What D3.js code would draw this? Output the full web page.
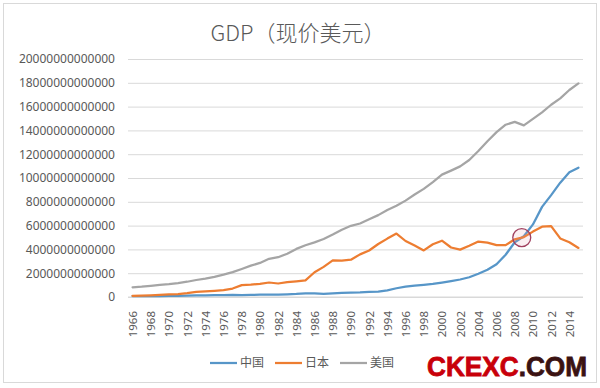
<!DOCTYPE html>
<html>
<head>
<meta charset="utf-8">
<script src="https://cdn.jsdelivr.net/npm/d3@7"></script>
<style>
  body { margin: 0; background: #fff; }
</style>
</head>
<body>
<div id="chart"></div>
<script>
var w = 600,
    h = 388;

// GDP, current US$, trillions
var years = d3.range(1966, 2016);

var china = [0.0764, 0.0723, 0.0700, 0.0788, 0.0916, 0.0986, 0.1121, 0.1368, 0.1422, 0.1612,
             0.1516, 0.1724, 0.1482, 0.1766, 0.1894, 0.1941, 0.2033, 0.2283, 0.2576, 0.3074,
             0.2983, 0.2720, 0.3127, 0.3478, 0.3608, 0.3834, 0.4266, 0.4447, 0.5643, 0.7345,
             0.8637, 0.9615, 1.0290, 1.0940, 1.2113, 1.3394, 1.4706, 1.6603, 1.9553, 2.2860,
             2.7520, 3.5522, 4.5982, 5.1100, 6.1006, 7.5726, 8.5605, 9.6072, 10.4824, 10.8664];

var japan = [0.105, 0.123, 0.147, 0.172, 0.212, 0.240, 0.318, 0.432, 0.479, 0.522,
             0.576, 0.709, 0.998, 1.031, 1.105, 1.218, 1.134, 1.243, 1.318, 1.399,
             2.079, 2.532, 3.072, 3.054, 3.133, 3.584, 3.909, 4.454, 4.907, 5.334,
             4.706, 4.324, 3.915, 4.433, 4.731, 4.160, 3.981, 4.303, 4.656, 4.572,
             4.357, 4.356, 4.849, 5.035, 5.495, 5.906, 5.954, 4.920, 4.602, 4.123];

var usa = [0.815, 0.862, 0.942, 1.020, 1.075, 1.167, 1.283, 1.429, 1.549, 1.688,
           1.877, 2.086, 2.357, 2.632, 2.863, 3.211, 3.345, 3.638, 4.041, 4.347,
           4.590, 4.870, 5.252, 5.658, 5.980, 6.174, 6.539, 6.879, 7.309, 7.664,
           8.100, 8.609, 9.089, 9.661, 10.285, 10.622, 10.978, 11.511, 12.275, 13.094,
           13.856, 14.478, 14.719, 14.419, 14.964, 15.518, 16.155, 16.692, 17.393, 17.947];

var yTicks = d3.range(0, 20000000000001, 2000000000000);

var seriesNames = ['中国', '日本', '美国'];

var palette = {
    china: '#5796C8',
    japan: '#ED7D31',
    usa: '#A5A5A5',
    grid: '#D9D9D9',
    text: '#595959'
};

var series = [
    { name: seriesNames[0], values: china, color: palette.china },
    { name: seriesNames[1], values: japan, color: palette.japan },
    { name: seriesNames[2], values: usa, color: palette.usa }
];

var svg = d3.select('#chart')
    .append('svg')
    .attr('width', w)
    .attr('height', h)
    .style('font-family', '"Noto Sans", "Noto Sans CJK SC", sans-serif');

// chart frame
svg.append('rect')
    .attr('x', 3.5).attr('y', 3.5)
    .attr('width', 593).attr('height', 379)
    .attr('fill', '#fff')
    .attr('stroke', palette.grid);

var x = d3.scalePoint()
    .domain(years)
    .range([128, 583])
    .padding(0.5);

var y = d3.scaleLinear()
    .domain([0, 20000000000000])
    .range([297, 59]);

// title
svg.append('text')
    .attr('x', 298)
    .attr('y', 41)
    .attr('text-anchor', 'middle')
    .attr('font-size', 22)
    .attr('font-weight', 300)
    .attr('fill', palette.text)
    .style('font-family', '"Noto Sans CJK SC", sans-serif')
    .text('GDP（现价美元）');

// y axis + gridlines
var yAxis = svg.append('g')
    .attr('transform', 'translate(128,0)')
    .call(d3.axisLeft(y).tickValues(yTicks).tickSize(-455).tickPadding(13)
        .tickFormat(function(d) { return d === 0 ? '0' : d3.format('d')(d); }));

yAxis.select('.domain').remove();
yAxis.selectAll('line').attr('stroke', palette.grid);
yAxis.selectAll('text')
    .attr('fill', palette.text)
    .attr('font-size', 12)
    .style('font-family', '"Noto Sans", sans-serif');

// x axis
var xAxis = svg.append('g')
    .attr('transform', 'translate(0,297)')
    .call(d3.axisBottom(x)
        .tickValues(years.filter(function(d) { return (d - 1966) % 2 === 0; }))
        .tickSize(0));

xAxis.select('.domain')
    .attr('d', 'M128,0H583')
    .attr('stroke', palette.grid);

xAxis.selectAll('text')
    .attr('transform', 'rotate(-90)')
    .attr('text-anchor', 'end')
    .attr('x', -14)
    .attr('y', 0)
    .attr('dy', '0.35em')
    .attr('fill', palette.text)
    .attr('font-size', 11.5)
    .style('font-family', '"Noto Sans", sans-serif');

// lines
var line = d3.line()
    .x(function(d, i) { return x(years[i]); })
    .y(function(d) { return y(d * 1e12); });

svg.selectAll('path.series')
    .data(series).enter()
    .append('path')
    .attr('class', 'series')
    .attr('d', function(d) { return line(d.values); })
    .attr('fill', 'none')
    .attr('stroke', function(d) { return d.color; })
    .attr('stroke-width', 2.25)
    .attr('stroke-linejoin', 'round')
    .attr('stroke-linecap', 'round');

// circle where China passes Japan
for (var i = 1; i < years.length; i++) {
    var d0 = china[i - 1] - japan[i - 1],
        d1 = china[i] - japan[i];
    if (d0 < 0 && d1 >= 0) {
        var t = -d0 / (d1 - d0);
        var cx = x(years[i - 1]) + t * (x(years[i]) - x(years[i - 1]));
        var cy = y((japan[i - 1] + t * (japan[i] - japan[i - 1])) * 1e12);
        svg.append('circle')
            .attr('cx', cx)
            .attr('cy', cy)
            .attr('r', 9)
            .attr('fill', 'rgba(230,150,170,0.15)')
            .attr('stroke', '#A0405F')
            .attr('stroke-width', 1.3);
        break;
    }
}

// legend
var legend = svg.selectAll('g.legend')
    .data(series).enter()
    .append('g')
    .attr('class', 'legend')
    .attr('transform', function(d, i) { return 'translate(' + (210 + i * 65) + ',363)'; });

legend.append('line')
    .attr('x1', 0).attr('x2', 27)
    .attr('stroke', function(d) { return d.color; })
    .attr('stroke-width', 2.25);

legend.append('text')
    .attr('x', 30)
    .attr('dy', '0.35em')
    .attr('font-size', 12)
    .attr('fill', palette.text)
    .style('font-family', '"Noto Sans CJK SC", sans-serif')
    .text(function(d) { return d.name; });

// watermark
var mark = svg.append('text')
    .attr('x', 427)
    .attr('y', 376)
    .attr('font-size', 27)
    .attr('font-weight', 'bold')
    .attr('textLength', 160)
    .attr('lengthAdjust', 'spacingAndGlyphs')
    .attr('stroke-width', 0.8)
    .style('font-family', '"Liberation Sans", Arial, sans-serif');

mark.append('tspan').attr('fill', '#C8000A').attr('stroke', '#C8000A').text('CKEXC');
mark.append('tspan').attr('fill', '#3A1212').attr('stroke', '#3A1212').text('.COM');
</script>
</body>
</html>
